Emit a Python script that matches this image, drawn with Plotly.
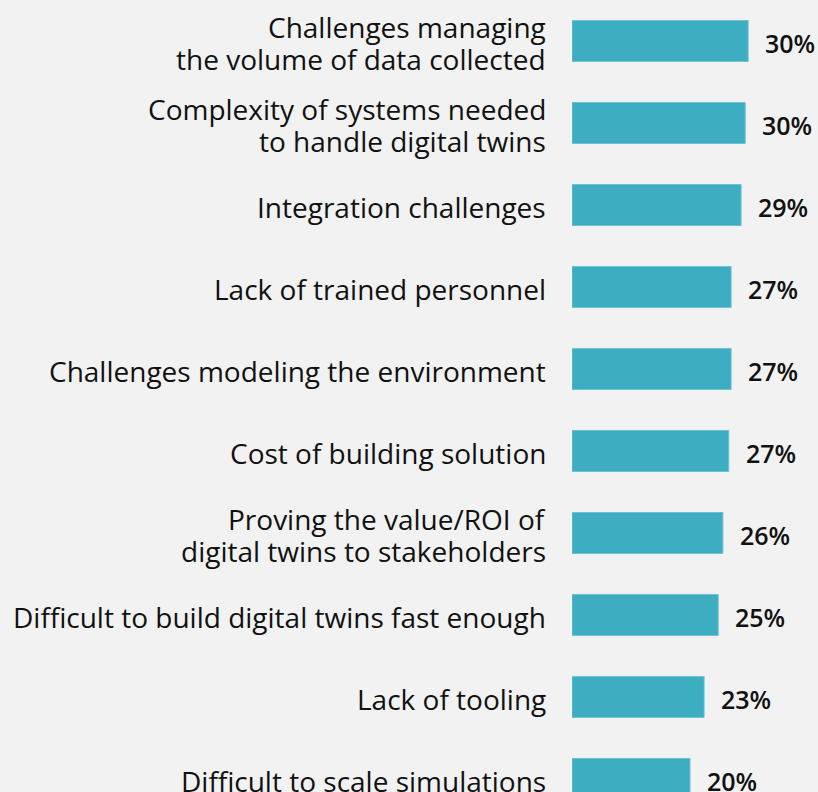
import plotly.graph_objects as go

categories = [
    "Challenges managing<br>the volume of data collected",
    "Complexity of systems needed<br>to handle digital twins",
    "Integration challenges",
    "Lack of trained personnel",
    "Challenges modeling the environment",
    "Cost of building solution",
    "Proving the value/ROI of<br>digital twins to stakeholders",
    "Difficult to build digital twins fast enough",
    "Lack of tooling",
    "Difficult to scale simulations",
]
values = [30.0, 29.5, 28.8, 27.1, 27.1, 26.7, 25.7, 24.9, 22.5, 20.1]
value_labels = ["30%", "30%", "29%", "27%", "27%", "27%", "26%", "25%", "23%", "20%"]

BG = "#f2f2f2"
BAR = "#3dadc2"
FONT = "Open Sans"
LINE_PITCH = 32

fig = go.Figure()
fig.add_trace(go.Bar(
    x=values,
    y=categories,
    orientation="h",
    width=0.5,
    marker=dict(color=BAR, line=dict(color="#6cc3d3", width=1)),
    hoverinfo="skip",
))

# category labels (one annotation per text line for tighter line spacing)
for c in categories:
    lines = c.split("<br>")
    n = len(lines)
    for j, ln in enumerate(lines):
        fig.add_annotation(
            xref="paper", x=0, y=c, text=ln, showarrow=False,
            xanchor="right", xshift=-24,
            yshift=-((j - (n - 1) / 2) * LINE_PITCH) - 2,
            font=dict(family=FONT, size=28, color="#111111"),
        )

# value labels
for c, v, t in zip(categories, values, value_labels):
    fig.add_annotation(
        x=v, y=c, text=t, showarrow=False, xanchor="left", xshift=15, yshift=-2,
        font=dict(family=FONT, size=25, color="#111111", weight=600),
    )

fig.update_layout(
    width=818, height=792,
    margin=dict(l=572, r=0, t=0, b=0),
    paper_bgcolor=BG, plot_bgcolor=BG,
    showlegend=False,
    xaxis=dict(range=[0, 41.9], visible=False, fixedrange=True),
    yaxis=dict(
        categoryorder="array", categoryarray=categories,
        range=[9.159, -0.5],
        showgrid=False, zeroline=False, showline=False, ticks="",
        showticklabels=False, fixedrange=True,
    ),
)

fig.write_html(
    "out.html",
    config={"displayModeBar": False},
    post_script="document.body.style.margin='0';document.body.style.background='#f2f2f2';",
)
